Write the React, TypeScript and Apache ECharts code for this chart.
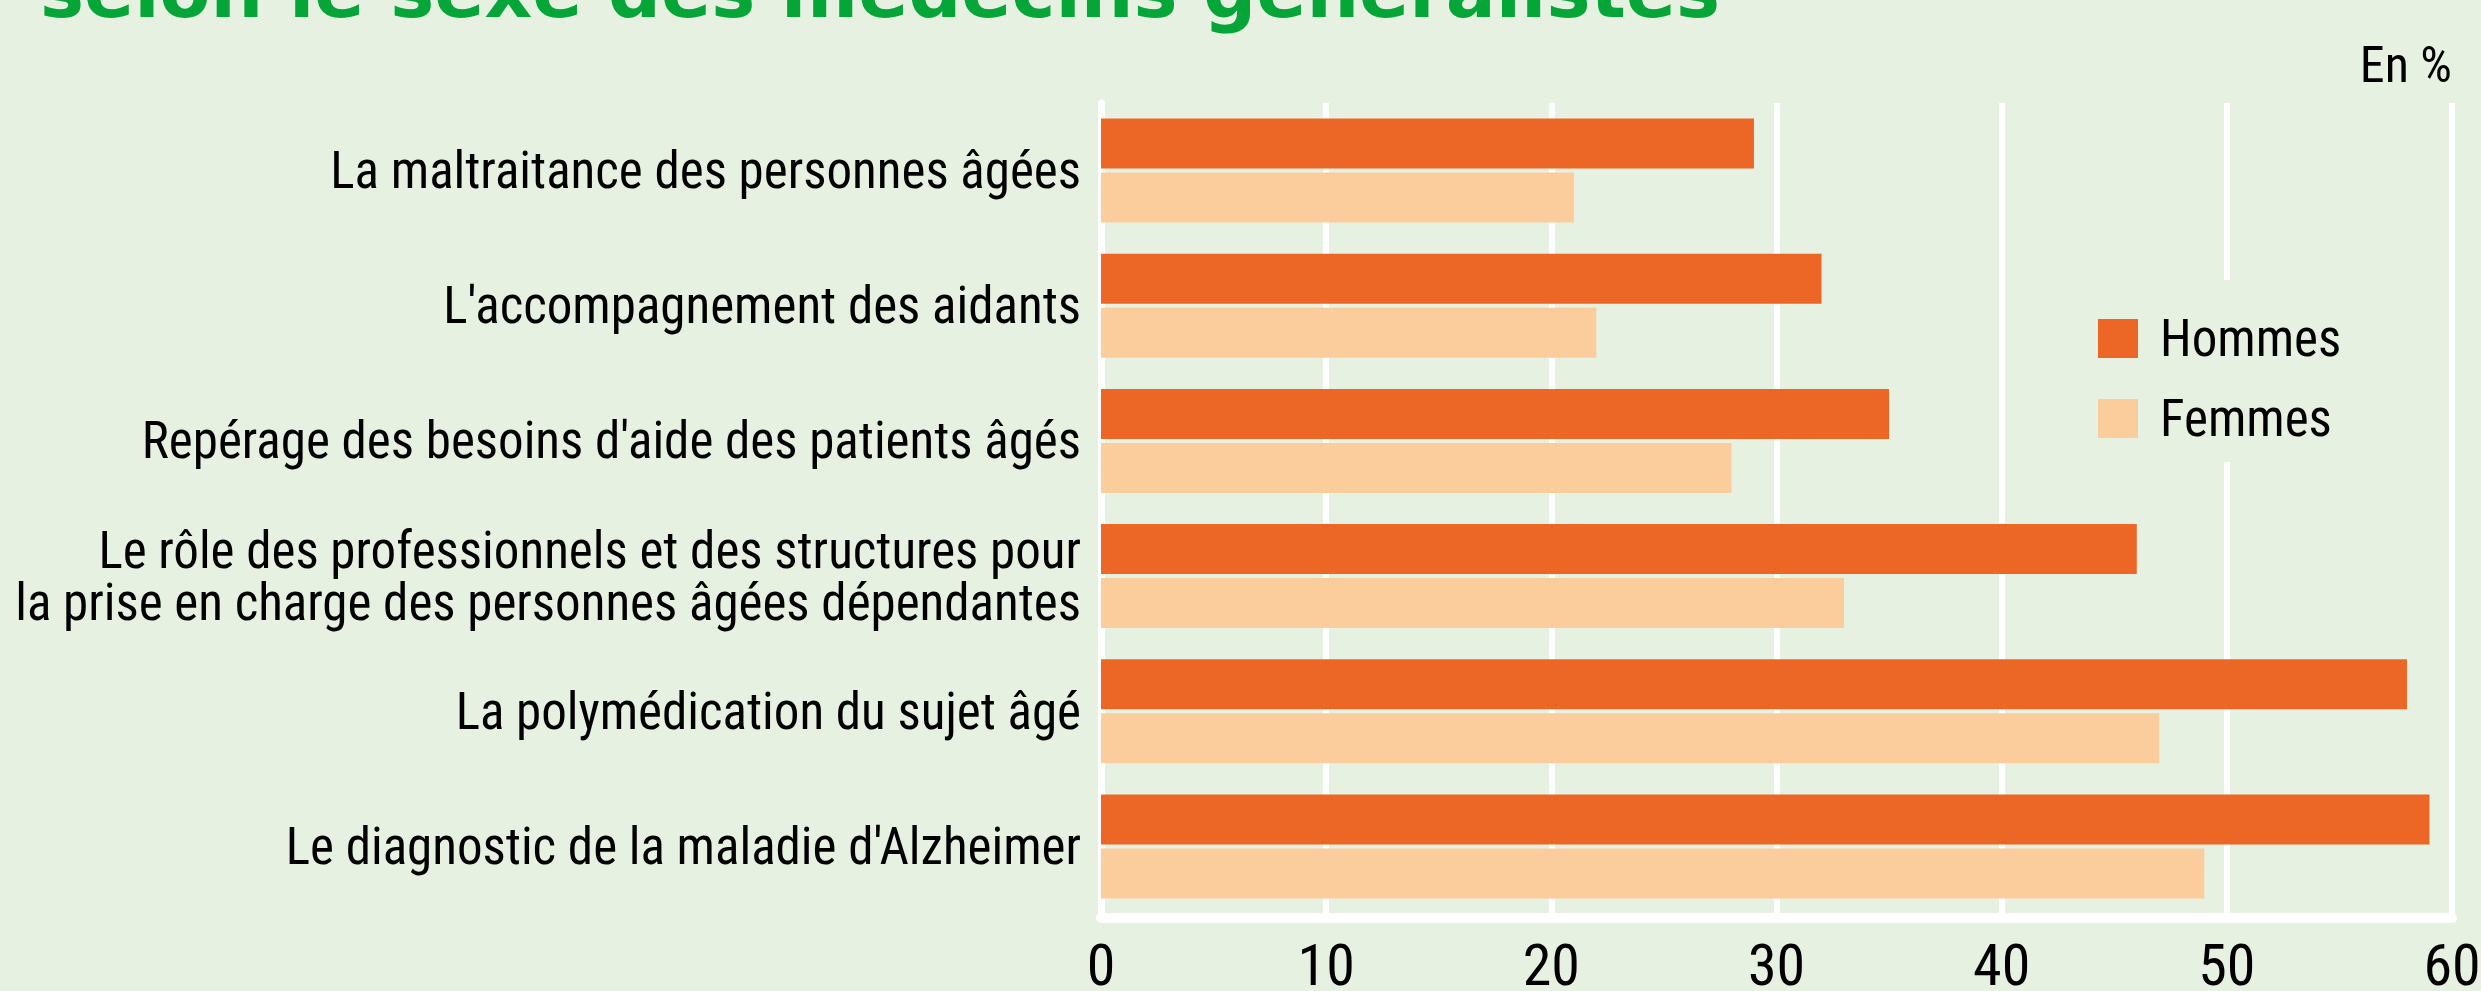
import React, { useEffect, useRef } from "react";
import * as echarts from "echarts";

const categories = [
  "La maltraitance des personnes âgées",
  "L'accompagnement des aidants",
  "Repérage des besoins d'aide des patients âgés",
  "Le rôle des professionnels et des structures pour\nla prise en charge des personnes âgées dépendantes",
  "La polymédication du sujet âgé",
  "Le diagnostic de la maladie d'Alzheimer",
];
const hommes = [29, 32, 35, 46, 58, 59];
const femmes = [21, 22, 28, 33, 47, 49];
const seriesNames = ["Hommes", "Femmes"];
const titleText = "selon le sexe des médecins généralistes";
const unitText = "En %";

const BG = "#E6F1E1";
const NARROW = "'Roboto Condensed', 'Liberation Sans', Arial, sans-serif";

export default function App() {
  const ref = useRef<HTMLDivElement>(null);
  useEffect(() => {
    if (!ref.current) return;
    const chart = echarts.init(ref.current, null, { renderer: "svg" });
    chart.setOption({
      animation: false,
      backgroundColor: BG,
      grid: { left: 1101, right: 29, top: 103, bottom: 77, containLabel: false, outerBoundsMode: "none" },
      legend: {
        orient: "vertical",
        left: 2078,
        top: 280,
        padding: [33, 20, 18, 20],
        backgroundColor: BG,
        itemWidth: 40,
        itemHeight: 39,
        itemGap: 29,
        icon: "rect",
        selectedMode: false,
        data: seriesNames,
        textStyle: {
          fontFamily: NARROW,
          fontSize: 51,
          color: "#000",
          padding: [0, 0, 0, 17],
        },
      },
      xAxis: {
        type: "value",
        min: 0,
        max: 60,
        interval: 10,
        offset: 4,
        axisLine: { show: true, lineStyle: { color: "#fff", width: 10 } },
        axisTick: { show: false },
        splitLine: { show: true, lineStyle: { color: "#fff", width: 6 } },
        axisLabel: {
          fontFamily: NARROW,
          fontSize: 58,
          color: "#000",
          margin: 18,
        },
      },
      yAxis: {
        type: "category",
        inverse: true,
        data: categories,
        axisLine: { show: true, lineStyle: { color: "#fff", width: 7 } },
        axisTick: { show: false },
        axisLabel: {
          fontFamily: NARROW,
          fontSize: 51,
          lineHeight: 52,
          color: "#000",
          margin: 20,
          align: "right",
        },
      },
      series: [
        {
          name: seriesNames[0],
          type: "bar",
          data: hommes,
          barWidth: 50,
          barGap: "8%",
          itemStyle: { color: "#EC6725" },
        },
        {
          name: seriesNames[1],
          type: "bar",
          data: femmes,
          barWidth: 50,
          barGap: "8%",
          itemStyle: { color: "#FBCD9C" },
        },
      ],
      graphic: [
        {
          type: "text",
          left: 40,
          top: -46,
          style: {
            text: titleText,
            fill: "#05A538",
            font: "bold 74px 'DejaVu Sans', sans-serif",
          },
        },
        {
          type: "text",
          x: 2452,
          y: 65,
          style: {
            text: unitText,
            fill: "#000",
            font: `50px ${NARROW}`,
            align: "right",
            verticalAlign: "middle",
          },
        },
      ],
    });
    return () => chart.dispose();
  }, []);
  return (
    <div
      ref={ref}
      style={{ position: "fixed", left: 0, top: 0, width: 2481, height: 991 }}
    />
  );
}
